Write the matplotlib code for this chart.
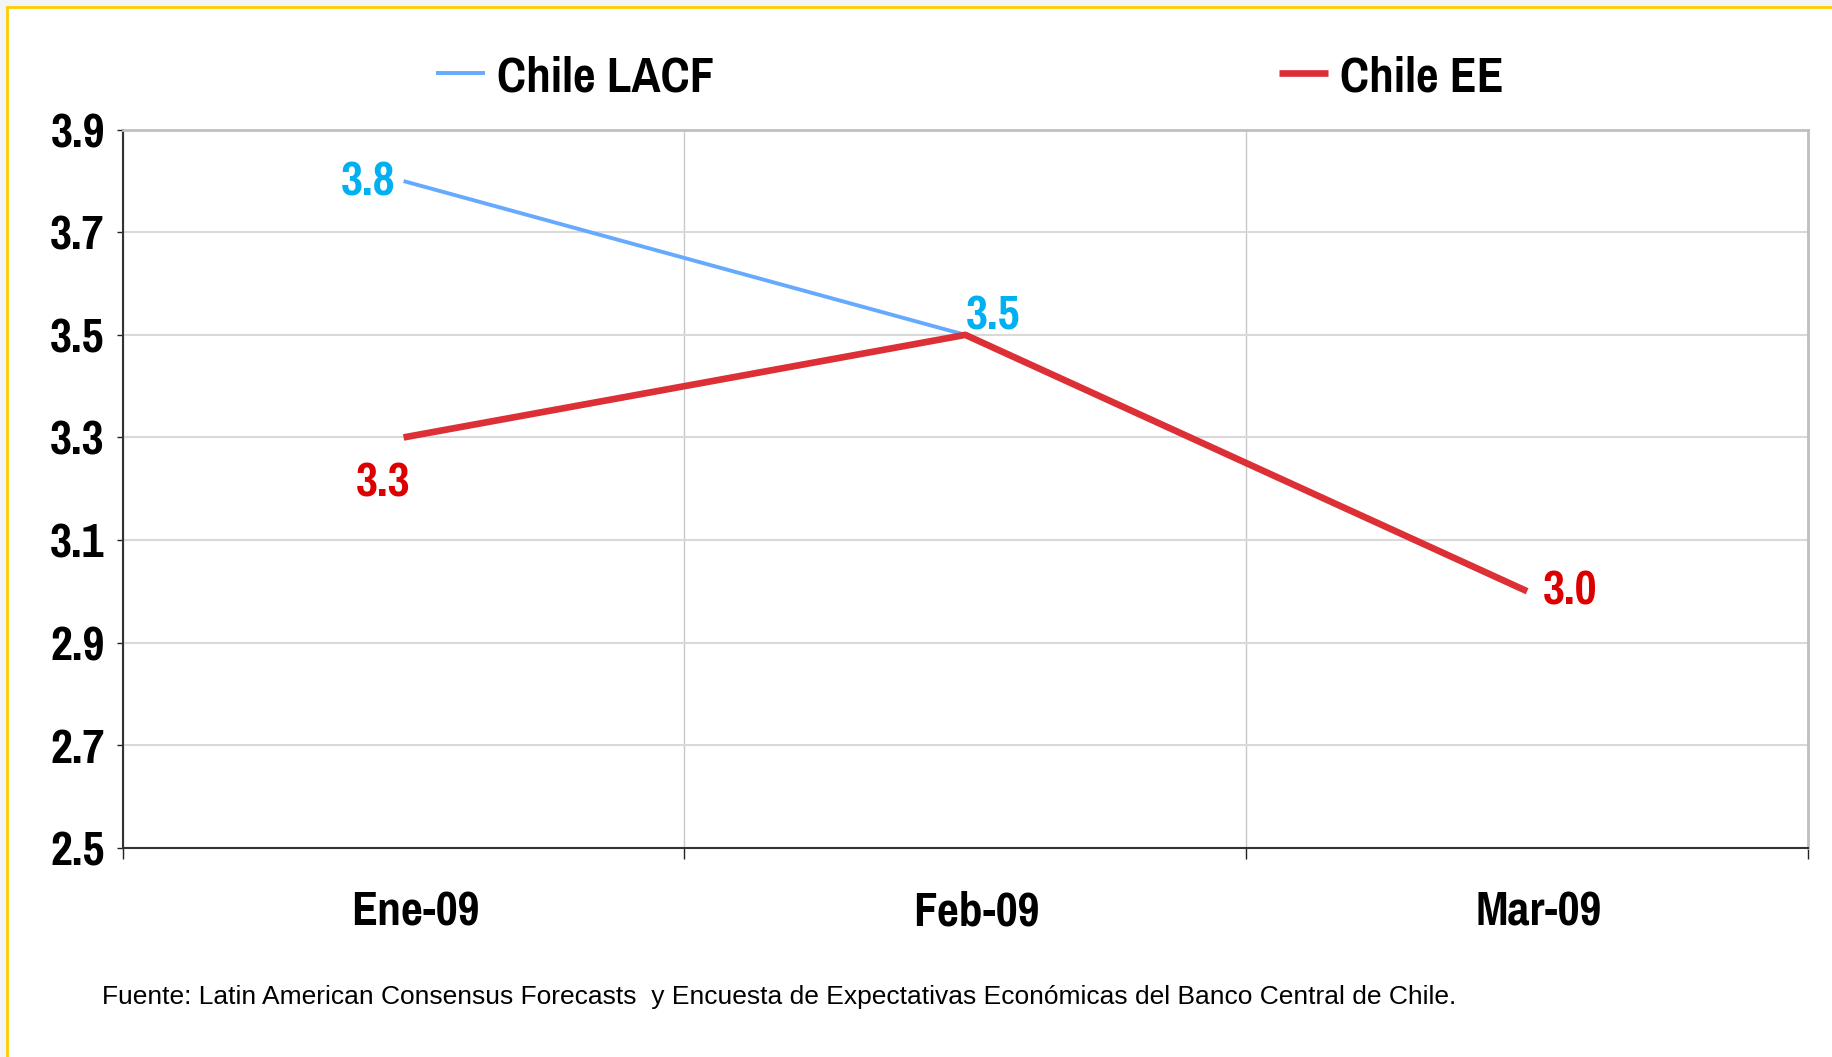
import numpy as np
import matplotlib.pyplot as plt
from matplotlib import font_manager
from matplotlib.patches import Rectangle

# data
meses = ["Ene-09", "Feb-09", "Mar-09"]
lacf = [3.8, 3.5]
ee = [3.3, 3.5, 3.0]
yticks = [2.5, 2.7, 2.9, 3.1, 3.3, 3.5, 3.7, 3.9]
fuente = ("Fuente: Latin American Consensus Forecasts  y Encuesta de Expectativas "
          "Económicas del Banco Central de Chile.")

c_lacf = "#66AAFF"
c_lacf_lab = "#00B0F0"
c_ee = "#DC2F36"
c_ee_lab = "#DD0000"

# narrow grotesque with a bold cut, in order of preference
prefs = ["Liberation Sans Narrow", "Arial Narrow", "Nimbus Sans Narrow",
         "Pragati Narrow", "Roboto Condensed", "PT Sans Narrow", "Archivo Narrow"]


def is_bold(w):
    if isinstance(w, str):
        return w in ("bold", "heavy", "black", "demibold", "semibold")
    return w >= 600


bold_names = {f.name for f in font_manager.fontManager.ttflist if is_bold(f.weight)}
pick = [p for p in prefs if p in bold_names][:1]
narrow = pick + ["Liberation Sans", "DejaVu Sans"]
k = 1.07 if pick else 0.86

W, H = 1833, 1057
fig = plt.figure(figsize=(W / 100, H / 100), dpi=100, facecolor="#f4f4f4")

# white card with yellow border
fig.patches.append(Rectangle((7 / W, -0.05), 1.2, 1 - 7 / H + 0.05,
                             transform=fig.transFigure, facecolor="white",
                             edgecolor="#FFCC00", linewidth=2, zorder=-5))

ax = fig.add_axes([122.7 / W, 1 - 847.6 / H, (1808 - 122.7) / W, (847.6 - 129.8) / H])
ax.set_facecolor("white")

x = np.arange(len(meses))
l1, = ax.plot(x[:len(lacf)], lacf, color=c_lacf, lw=2.8, solid_capstyle="butt",
              label="Chile LACF", zorder=3)
l2, = ax.plot(x, ee, color=c_ee, lw=4.8, solid_capstyle="butt",
              label="Chile EE", zorder=4)

ax.set_xlim(-0.5, 2.5)
ax.set_ylim(2.5, 3.9)
ax.set_yticks(yticks)
ax.set_yticklabels([f"{v:.1f}" for v in yticks])
ax.set_xticks(x + 0.02)
ax.set_xticklabels(meses)
ax.set_xticks([-0.5, 0.5, 1.5, 2.5], minor=True)

ax.grid(axis="y", color="#d9d9d9", lw=1.5)
ax.grid(axis="x", which="minor", color="#c8c8c8", lw=1)
ax.set_axisbelow(True)

ax.tick_params(axis="x", which="major", length=0, pad=31)
ax.tick_params(axis="x", which="minor", length=8, width=1, color="#222222", direction="out")
ax.tick_params(axis="y", length=4, width=1, color="#222222", pad=9)
for lab in ax.get_xticklabels() + ax.get_yticklabels():
    lab.set_family(narrow)
    lab.set_fontweight("bold")
    lab.set_fontsize(35 * k)

for s in ["top", "right"]:
    ax.spines[s].set_color("#bfbfbf")
    ax.spines[s].set_linewidth(2)
for s in ["left", "bottom"]:
    ax.spines[s].set_color("#333333")
    ax.spines[s].set_linewidth(1.5)

# data labels
lab_kw = dict(textcoords="offset points", fontsize=35 * k, fontweight="bold", family=narrow)
ax.annotate(f"{lacf[0]:.1f}", (x[0], lacf[0]), xytext=(-6, -1), ha="right", va="center",
            color=c_lacf_lab, **lab_kw)
ax.annotate(f"{lacf[1]:.1f}", (x[1], lacf[1]), xytext=(0, -2), ha="left", va="bottom",
            color=c_lacf_lab, **lab_kw)
ax.annotate(f"{ee[0]:.1f}", (x[0], ee[0]), xytext=(-15, -17), ha="center", va="top",
            color=c_ee_lab, **lab_kw)
ax.annotate(f"{ee[2]:.1f}", (x[2], ee[2]), xytext=(11, 0), ha="left", va="center",
            color=c_ee_lab, **lab_kw)

fsz = 36 * k
fig.legend(handles=[l1, l2], loc="center left", bbox_to_anchor=(436 / W, 1 - 77 / H),
           ncol=2, frameon=False, borderpad=0, borderaxespad=0,
           handlelength=49 / (fsz / 0.72), handletextpad=12 / (fsz / 0.72),
           columnspacing=565 / (fsz / 0.72),
           prop=dict(family=narrow, weight="bold", size=fsz))

fig.text(102 / W, 1 - 997 / H, fuente, ha="left", va="center", fontsize=19,
         family=["Liberation Sans", "DejaVu Sans"], color="black")

fig.savefig("out.png", dpi=100, facecolor=fig.get_facecolor())
